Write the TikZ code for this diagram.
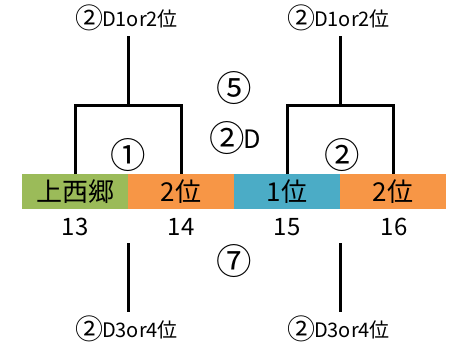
\documentclass[tikz,border=0pt]{standalone}
\usepackage{fontspec}
\setmainfont{Noto Sans CJK JP}
\newfontfamily\circfont{Noto Sans CJK JP}[Scale=1.4]
\newcommand\circnum[1]{\raisebox{-0.12em}{\circfont\kern-0.1em #1\kern-0.04em}}
\begin{document}
\begin{tikzpicture}[x=0.75pt,y=-0.75pt,
  seg/.style={minimum width=79.5pt,minimum height=26.25pt,inner sep=0pt,outer sep=0pt,
    font=\fontsize{19.5pt}{19.5pt}\selectfont,anchor=west},
  num/.style={inner sep=0pt,font=\fontsize{18pt}{18pt}\selectfont},
  circ/.style={inner sep=0pt,font=\fontsize{19pt}{19pt}\selectfont},
  lab/.style={inner sep=1pt,font=\fontsize{15pt}{15pt}\selectfont},
  wire/.style={line width=2.25pt}]
\useasboundingbox (0,0) rectangle (459,345);
% bar
\node[seg,fill={rgb,255:red,155;green,187;blue,89}] (s13) at (22,191.5) {上西郷};
\node[seg,fill={rgb,255:red,247;green,150;blue,70}] (s14) at (s13.east) {2位};
\node[seg,fill={rgb,255:red,75;green,172;blue,198}] (s15) at (s14.east) {1位};
\node[seg,fill={rgb,255:red,247;green,150;blue,70}] (s16) at (s15.east) {2位};
% numbers
\node[num] (n13) at (75,227) {13};
\node[num] (n14) at (181,227) {14};
\node[num] (n15) at (287,227) {15};
\node[num] (n16) at (394,227) {16};
% circled labels
\node[circ] (c1) at (129,155) {\circnum{①}};
\node[circ] (c2) at (343,155) {\circnum{②}};
\node[circ] (c5) at (235,88) {\circnum{⑤}};
\node[circ] (c2d) at (237,138) {\circnum{②}D};
\node[circ] (c7) at (235,261) {\circnum{⑦}};
% small labels
\node[lab] (t1) at (128,18) {\circnum{②}D1or2位};
\node[lab] (t2) at (340,18) {\circnum{②}D1or2位};
\node[lab] (b1) at (128,329) {\circnum{②}D3or4位};
\node[lab] (b2) at (340,329) {\circnum{②}D3or4位};
% junctions
\coordinate (j1) at (128,106);
\coordinate (j2) at (340,106);
\coordinate (k1) at (128,243);
\coordinate (k2) at (340,243);
\coordinate (m1) at (128,36);
\coordinate (m2) at (340,36);
\coordinate (e1) at (128,312);
\coordinate (e2) at (340,312);
% wires
\draw[wire] (s13.north) |- (j1) -| (s14.north);
\draw[wire] (s15.north) |- (j2) -| (s16.north);
\draw[wire] (j1) -- (m1);
\draw[wire] (j2) -- (m2);
\draw[wire] (k1) -- (e1);
\draw[wire] (k2) -- (e2);
\end{tikzpicture}
\end{document}
